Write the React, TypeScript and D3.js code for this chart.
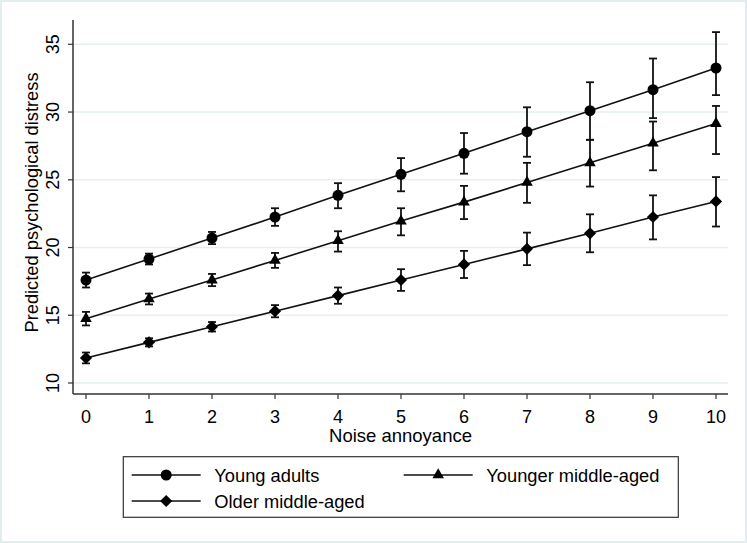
import React from 'react'
import * as d3 from 'd3'

// noise annoyance levels 0..10
const levels = [0, 1, 2, 3, 4, 5, 6, 7, 8, 9, 10]

// predicted psychological distress with 95% CI
const youngMean = [17.6, 19.15, 20.7, 22.25, 23.85, 25.4, 26.95, 28.55, 30.1, 31.65, 33.25]
const youngLow = [17.05, 18.75, 20.25, 21.6, 22.9, 24.15, 25.45, 26.7, 27.95, 29.55, 31.25]
const youngHigh = [18.15, 19.55, 21.15, 22.9, 24.75, 26.6, 28.45, 30.35, 32.2, 33.95, 35.9]

const midMean = [14.75, 16.2, 17.6, 19.05, 20.5, 21.95, 23.35, 24.8, 26.25, 27.7, 29.15]
const midLow = [14.25, 15.8, 17.15, 18.5, 19.7, 20.9, 22.1, 23.3, 24.5, 25.7, 26.9]
const midHigh = [15.25, 16.6, 18.05, 19.6, 21.2, 22.9, 24.55, 26.25, 27.95, 29.3, 30.45]

const oldMean = [11.85, 13.0, 14.15, 15.3, 16.45, 17.6, 18.75, 19.9, 21.05, 22.25, 23.4]
const oldLow = [11.45, 12.7, 13.8, 14.85, 15.85, 16.8, 17.75, 18.7, 19.65, 20.6, 21.55]
const oldHigh = [12.25, 13.3, 14.5, 15.75, 17.05, 18.4, 19.75, 21.1, 22.45, 23.85, 25.2]

const yTicks = [10, 15, 20, 25, 30, 35]
const seriesNames = ['Young adults', 'Younger middle-aged', 'Older middle-aged']

const W = 747
const H = 543
const FONT = "'Liberation Sans', Arial, Helvetica, sans-serif"

const x = d3.scaleLinear().domain([0, 10]).range([86, 716])
const y = d3.scaleLinear().domain([10, 35]).range([383, 44.3])

const plotLeft = 73
const plotRight = 728
const plotTop = 20
const plotBottom = 394

type Series = { name: string, mean: number[], low: number[], high: number[], shape: string }

const series: Series[] = [
    { name: seriesNames[0], mean: youngMean, low: youngLow, high: youngHigh, shape: 'circle' },
    { name: seriesNames[1], mean: midMean, low: midLow, high: midHigh, shape: 'triangle' },
    { name: seriesNames[2], mean: oldMean, low: oldLow, high: oldHigh, shape: 'diamond' },
]

const markerPath = (shape: string) => {
    if (shape === 'circle') return d3.symbol(d3.symbolCircle, 95)()
    if (shape === 'triangle') return d3.symbol(d3.symbolTriangle, 58)()
    return d3.symbol(d3.symbolSquare, 74)()
}
const markerRot = (shape: string) => shape === 'diamond' ? ' rotate(45)' : ''

const Marker = ({ shape, cx, cy }: { shape: string, cx: number, cy: number }) =>
    <path d={markerPath(shape) || ''} transform={`translate(${cx},${cy})${markerRot(shape)}`} fill="#000" />

export default function App() {
    const line = d3.line<number>().x((d, i) => x(levels[i])).y(d => y(d))
    const cap = 4

    // legend positions
    const legendRows = [
        { s: series[0], lx: 131.7, ly: 475 },
        { s: series[1], lx: 403.7, ly: 475 },
        { s: series[2], lx: 131.7, ly: 501 },
    ]

    return (
        <svg width={W} height={H} style={{ position: 'absolute', left: 0, top: 0, fontFamily: FONT }}>
            <rect x={0} y={0} width={W} height={H} fill="#fff" />
            <rect x={1} y={1} width={W - 2} height={H - 2} fill="none" stroke="#e3ecef" strokeWidth={2} />

            {/* gridlines */}
            {yTicks.map(t =>
                <line key={'g' + t} x1={plotLeft} x2={plotRight} y1={y(t)} y2={y(t)} stroke="#e6eff1" strokeWidth={1.5} />
            )}

            {/* y axis */}
            <line x1={plotLeft} x2={plotLeft} y1={plotTop} y2={plotBottom} stroke="#333" strokeWidth={1.5} />
            {yTicks.map(t =>
                <g key={'y' + t}>
                    <line x1={plotLeft - 5} x2={plotLeft} y1={y(t)} y2={y(t)} stroke="#333" strokeWidth={1.2} />
                    <text transform={`translate(59,${y(t)}) rotate(-90)`} textAnchor="middle" fontSize={18} fill="#000">{t}</text>
                </g>
            )}
            <text transform="translate(38,202.5) rotate(-90)" textAnchor="middle" fontSize={18.3} fill="#000">Predicted psychological distress</text>

            {/* x axis */}
            <line x1={plotLeft} x2={plotRight} y1={plotBottom} y2={plotBottom} stroke="#333" strokeWidth={1.5} />
            {levels.map(t =>
                <g key={'x' + t}>
                    <line x1={x(t)} x2={x(t)} y1={plotBottom} y2={plotBottom + 5} stroke="#333" strokeWidth={1.2} />
                    <text x={x(t)} y={423} textAnchor="middle" fontSize={18} fill="#000">{t}</text>
                </g>
            )}
            <text x={(plotLeft + plotRight) / 2} y={442} textAnchor="middle" fontSize={18.5} fill="#000">Noise annoyance</text>

            {/* error bars */}
            {series.map(s =>
                <g key={'e' + s.name} stroke="#111" strokeWidth={1.8}>
                    {levels.map((l, i) =>
                        <g key={i}>
                            <line x1={x(l)} x2={x(l)} y1={y(s.low[i])} y2={y(s.high[i])} />
                            <line x1={x(l) - cap} x2={x(l) + cap} y1={y(s.low[i])} y2={y(s.low[i])} />
                            <line x1={x(l) - cap} x2={x(l) + cap} y1={y(s.high[i])} y2={y(s.high[i])} />
                        </g>
                    )}
                </g>
            )}

            {/* lines + markers */}
            {series.map(s =>
                <g key={'l' + s.name}>
                    <path d={line(s.mean) || ''} fill="none" stroke="#111" strokeWidth={1.6} />
                    {levels.map((l, i) => <Marker key={i} shape={s.shape} cx={x(l)} cy={y(s.mean[i])} />)}
                </g>
            )}

            {/* legend */}
            <rect x={123.3} y={456.7} width={555} height={60.6} fill="#fff" stroke="#333" strokeWidth={1.2} />
            {legendRows.map(r =>
                <g key={'lg' + r.s.name}>
                    <line x1={r.lx} x2={r.lx + 69} y1={r.ly} y2={r.ly} stroke="#111" strokeWidth={1.6} />
                    <Marker shape={r.s.shape} cx={r.lx + 34.5} cy={r.ly} />
                    <text x={r.lx + 82.6} y={r.ly + 6.5} fontSize={18.3} fill="#000">{r.s.name}</text>
                </g>
            )}
        </svg>
    )
}
